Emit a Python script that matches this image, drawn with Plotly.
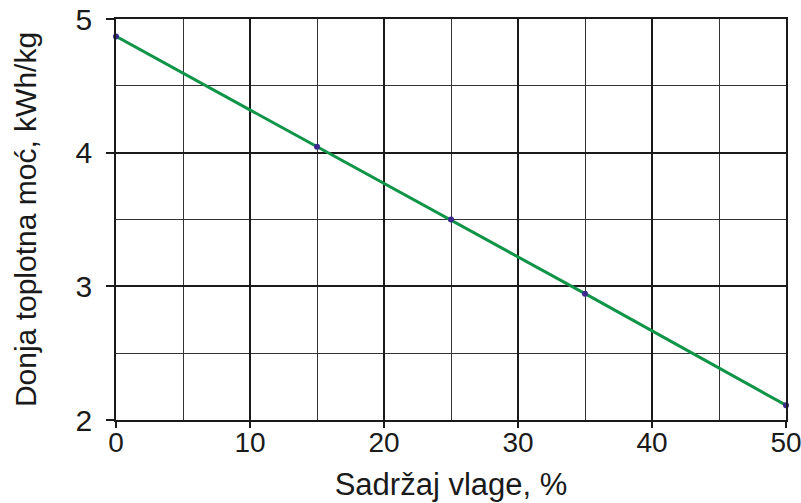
import plotly.graph_objects as go

moisture = [0, 15, 25, 35, 50]
heating_value = [4.87, 4.045, 3.50, 2.945, 2.11]
x_ticks = [0, 10, 20, 30, 40, 50]
y_ticks = [2, 3, 4, 5]

fig = go.Figure()
fig.add_trace(go.Scatter(
    x=moisture, y=heating_value, mode="lines+markers",
    line=dict(color="#0f9448", width=3),
    marker=dict(color="#3b2a8c", size=6),
    showlegend=False, cliponaxis=False,
))

font = dict(family="Liberation Sans, Arial, sans-serif", size=28, color="#1a1a1a")

fig.update_layout(
    width=801, height=503,
    margin=dict(l=116, r=15, t=19, b=83),
    paper_bgcolor="white", plot_bgcolor="white",
    font=font,
)
fig.update_xaxes(
    range=[0, 50], tickvals=x_ticks, ticktext=[str(v) for v in x_ticks],
    showgrid=True, gridcolor="#1a1a1a", gridwidth=1.6,
    minor=dict(dtick=5, showgrid=True, gridcolor="#333333", gridwidth=1.2),
    ticks="outside", ticklen=6, tickwidth=1.6, tickcolor="#1a1a1a",
    showline=True, linecolor="#1a1a1a", linewidth=1.6, mirror=True,
    zeroline=False, automargin=False, ticklabeloverflow="allow",
    title=dict(text="Sadržaj vlage, %", font=dict(size=31), standoff=16),
    tickfont=dict(size=28), ticklabelstandoff=-9,
)
fig.update_yaxes(
    range=[2, 5], tickvals=y_ticks, ticktext=[str(v) for v in y_ticks],
    showgrid=True, gridcolor="#1a1a1a", gridwidth=1.6,
    minor=dict(dtick=0.5, showgrid=True, gridcolor="#333333", gridwidth=1.2),
    ticks="outside", ticklen=8, tickwidth=1.6, tickcolor="#1a1a1a",
    showline=True, linecolor="#1a1a1a", linewidth=1.6, mirror=True,
    zeroline=False, automargin=False, ticklabeloverflow="allow",
    title=dict(text="Donja toplotna moć, kWh/kg", font=dict(size=30), standoff=30),
    tickfont=dict(size=30), ticklabelstandoff=8,
)
fig.write_html(
    "out.html",
    config={"displayModeBar": False},
    post_script="document.body.style.margin='0';document.body.style.overflow='hidden';",
)
